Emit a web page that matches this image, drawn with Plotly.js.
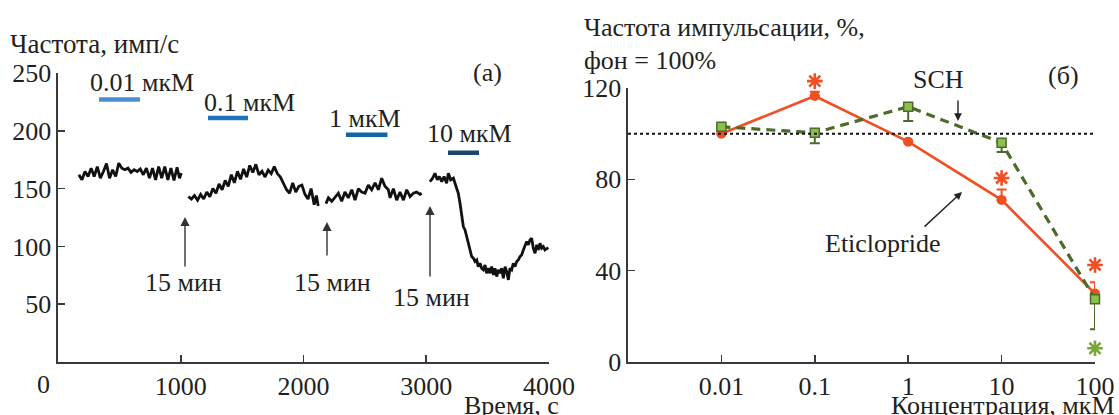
<!DOCTYPE html>
<html>
<head>
<meta charset="utf-8">
<script src="https://cdn.plot.ly/plotly-3.0.1.min.js"></script>
<style>html,body{margin:0;padding:0;background:#fff;}#chart{width:1119px;height:415px;}</style>
</head>
<body>
<div id="chart"></div>
<script>
// ---------- Panel (a): firing rate trace ----------
const seg1T = [170,195,220,245,270,295,320,345,370,395,420,445,470,495,520,545,570,595,620,645,670,695,720,745,770,795,820,845,870,895,920,945,970,990,1005];
const seg1R = [162,157.6,164.8,160.5,167.7,160.5,169,159,164.8,171.6,159,166.3,160.5,172,167.7,166.3,167.7,164,166.3,164.8,167,162,167.7,159,167.7,157.6,169,159,169,157.6,167.7,157,168.5,159,163.4];
const seg2T = [1062,1087,1112,1137,1162,1187,1212,1237,1262,1287,1312,1337,1362,1387,1412,1437,1462,1487,1512,1537,1562,1587,1612,1637,1662,1687,1712,1737,1762,1787,1812,1837,1862,1887,1912,1937,1962,1987,2012,2037,2062,2087,2105,2120];
const seg2R = [143,141,144,140,145,141,147,143,150,146,154,149,157,152,162,155,165,158,167,160,170,164,171,162,165,160,166,163,169,163,160,154,149,146,155,147,152,153,145,141,150,136,144,135];
const seg3T = [2183,2203,2230,2257,2284,2311,2338,2365,2393,2420,2447,2474,2501,2528,2555,2583,2610,2637,2664,2691,2705,2732,2759,2786,2814,2841,2868,2895,2922,2949,2963];
const seg3R = [137,142,139,143,146,139,147,142,149,140,150,147,146,153,149,155,149,159,152,149,142,150,140,147,140,149,143,146,147,145,146];
const seg4T = [3030,3052,3071,3090,3107,3126,3145,3166,3180,3199,3221,3242,3261,3275,3289,3302,3316,3329,3343,3356,3370,3384,3397,3411,3424,3438,3451,3465,3479,3492,3506,3519,3533,3547,3560,3574,3587,3601,3614,3628,3642,3655,3669,3682,3696,3709,3723,3737,3750,3764,3777,3791,3804,3818,3832,3845,3859,3872,3886,3900,3913,3927,3940,3954,3967,3981,3995];
const seg4R = [156.1,159,163.3,157.6,160.5,156.1,160.5,154.7,163.3,157.6,159,151.8,146,137.3,127.3,117.2,114.3,108.5,101.3,97,91.2,89.8,86.9,88.3,82.5,85.4,81.1,79.7,84,76.8,81.1,76.8,82.5,75.3,81.1,73.9,79.7,76.8,81.1,72.5,82.5,78.2,71,81.1,79.7,85.4,82.5,86.9,88.3,91.2,92.6,97,99.8,104.2,101.3,105.6,107.1,98.4,94,101.3,97,102.7,98.4,99.8,97,98.4,99];

// drug application bars
const concLabels = ['0.01 мкМ','0.1 мкМ','1 мкМ','10 мкМ'];
const barStart = [334,1222,2346,3177];
const barEnd   = [668,1548,2684,3430];
const barLevel = [227,211,196.5,181];
const barColors = ['#4a8fd6','#1f74c0','#1065aa','#1a466c'];
const washLabel = '15 мин';
const xTicksA = [1000,2000,3000,4000];
const yTicksA = [50,100,150,200,250];

// ---------- Panel (б): dose-response ----------
const conc = [0.01,0.1,1,10,100];
const concTickText = ['0.01','0.1','1','10','100'];
const eticlopride = [100,116.5,96.5,71,30];
const eticErrPlus = [0,1.9,0,4.6,4.9];
const sch = [103,100.4,111.8,96,27.5];
const schErrMinus = [0,4.6,6.2,4,13.2];
const eticSigX = [0.1,10,100];
const eticSigY = [123,80.6,42.5];
const schSigX = [100];
const schSigY = [6];
const yTicksB = [0,40,80,120];

const W = 1119, H = 415;
const px = v => v / W;
const py = v => 1 - v / H;
const FONT = 'Liberation Serif, Times New Roman, serif';
const TXT = '#231f20';
const AX = '#3a3a3a';
const FS = 26;

const red = '#f04e23';
const greenLine = '#4b6b2a';
const greenFill = '#8dc04a';

// y2 geometry (pixels) and an overlay axis with the same scale for marks above 120
const y2Bottom = 362, y2Top = 88, y3Top = 60;
const y2Max = 120;
const y3Max = y2Max * (y2Bottom - y3Top) / (y2Bottom - y2Top);

const traces = [];
[[seg1T,seg1R],[seg2T,seg2R],[seg3T,seg3R],[seg4T,seg4R]].forEach(s => {
  traces.push({x:s[0], y:s[1], xaxis:'x', yaxis:'y', mode:'lines', type:'scatter',
    line:{color:'#111', width:2.8}, hoverinfo:'skip', showlegend:false});
});
for (let i = 0; i < barStart.length; i++) {
  traces.push({x:[barStart[i], barEnd[i]], y:[barLevel[i], barLevel[i]], xaxis:'x', yaxis:'y',
    mode:'lines', type:'scatter', line:{color:barColors[i], width:4.5}, showlegend:false, hoverinfo:'skip'});
}
traces.push({x:conc, y:eticlopride, xaxis:'x2', yaxis:'y2', type:'scatter', mode:'lines+markers',
  line:{color:red, width:2.6},
  marker:{symbol:'circle', size:10, color:red},
  error_y:{type:'data', symmetric:false, array:eticErrPlus, arrayminus:[0,0,0,0,0], color:red, thickness:2, width:5},
  showlegend:false, cliponaxis:false});
traces.push({x:conc, y:sch, xaxis:'x2', yaxis:'y2', type:'scatter', mode:'lines+markers',
  line:{color:greenLine, width:3.2, dash:'9px,6px'},
  marker:{symbol:'square', size:9, color:greenFill, line:{color:greenLine, width:1.5}},
  error_y:{type:'data', symmetric:false, array:[0,0,0,0,0], arrayminus:schErrMinus, color:greenLine, thickness:2, width:5},
  showlegend:false, cliponaxis:false});
traces.push({x:eticSigX, y:eticSigY, xaxis:'x2', yaxis:'y3', type:'scatter', mode:'markers', cliponaxis:false,
  marker:{symbol:'asterisk-open', size:13, color:red, line:{color:red, width:2.6}}, showlegend:false});
traces.push({x:schSigX, y:schSigY, xaxis:'x2', yaxis:'y3', type:'scatter', mode:'markers', cliponaxis:false,
  marker:{symbol:'asterisk-open', size:13, color:'#79a83a', line:{color:'#79a83a', width:2.6}}, showlegend:false});

const axisCommon = {showline:true, linecolor:AX, linewidth:1.6, ticks:'inside', ticklen:7, tickwidth:1.6,
  tickcolor:AX, showgrid:false, zeroline:false, tickfont:{family:FONT, size:FS, color:TXT}, fixedrange:true};

const annotations = [];
const ann = (text, x, y, xa, size) => annotations.push({text:text, xref:'paper', yref:'paper',
  x:px(x), y:py(y), xanchor:xa || 'center', yanchor:'middle', showarrow:false,
  font:{family:FONT, size:size || FS, color:TXT}});
ann('Частота, имп/с', 8, 44, 'left', 27);
ann('(а)', 487, 72);
ann('0', 43, 384);
ann('Время, с', 561, 405, 'right');
const labelPos = [[142,83],[249,102],[365,118],[469,133]];
concLabels.forEach((t,i) => ann(t, labelPos[i][0], labelPos[i][1]));
// wash arrows
const arrows = [[185,217,268,183,282],[327,222,257,332,282],[430,206,278,431,297]];
arrows.forEach(a => {
  annotations.push({xref:'paper', yref:'paper', x:px(a[0]), y:py(a[1]), ax:0, ay:a[2]-a[1], text:'',
    showarrow:true, arrowhead:2, arrowsize:1.3, arrowwidth:1.4, arrowcolor:'#333'});
  ann(washLabel, a[3], a[4]);
});
ann('Частота импульсации, %,', 582, 27, 'left');
ann('фон = 100%', 582, 60, 'left');
ann('(б)', 1063, 75);
ann('Концентрация, мкМ', 1117, 405, 'right');
ann('SCH', 938, 80);
ann('Eticlopride', 883, 243);
annotations.push({xref:'paper', yref:'paper', x:px(958), y:py(121), ax:0, ay:-22, text:'',
  showarrow:true, arrowhead:2, arrowsize:1.1, arrowwidth:1.4, arrowcolor:'#222'});
annotations.push({xref:'paper', yref:'paper', x:px(962), y:py(192), ax:-39, ay:36, text:'',
  showarrow:true, arrowhead:2, arrowsize:1.1, arrowwidth:1.4, arrowcolor:'#222'});

const layout = {
  width:W, height:H, margin:{l:0,r:0,t:0,b:0}, paper_bgcolor:'#fff', plot_bgcolor:'rgba(0,0,0,0)',
  font:{family:FONT, color:TXT}, showlegend:false,
  xaxis:Object.assign({}, axisCommon, {domain:[px(58), px(549)], range:[0,4000], tickvals:xTicksA, anchor:'y'}),
  yaxis:Object.assign({}, axisCommon, {domain:[py(362), py(73)], range:[0,250], tickvals:yTicksA, anchor:'x'}),
  xaxis2:Object.assign({}, axisCommon, {domain:[px(628), px(1095)], type:'log', range:[-3,2], tickvals:conc, ticktext:concTickText, anchor:'y2'}),
  yaxis2:Object.assign({}, axisCommon, {domain:[py(y2Bottom), py(y2Top)], range:[0,y2Max], tickvals:yTicksB, anchor:'x2'}),
  yaxis3:{domain:[py(y2Bottom), py(y3Top)], range:[0,y3Max], visible:false, anchor:'x2', fixedrange:true},
  shapes:[{type:'line', xref:'x2 domain', yref:'y2', x0:0, x1:1, y0:100, y1:100, line:{color:'#111', width:2, dash:'dot'}}],
  annotations:annotations
};
Plotly.newPlot('chart', traces, layout, {staticPlot:true, displayModeBar:false});
</script>
</body>
</html>
